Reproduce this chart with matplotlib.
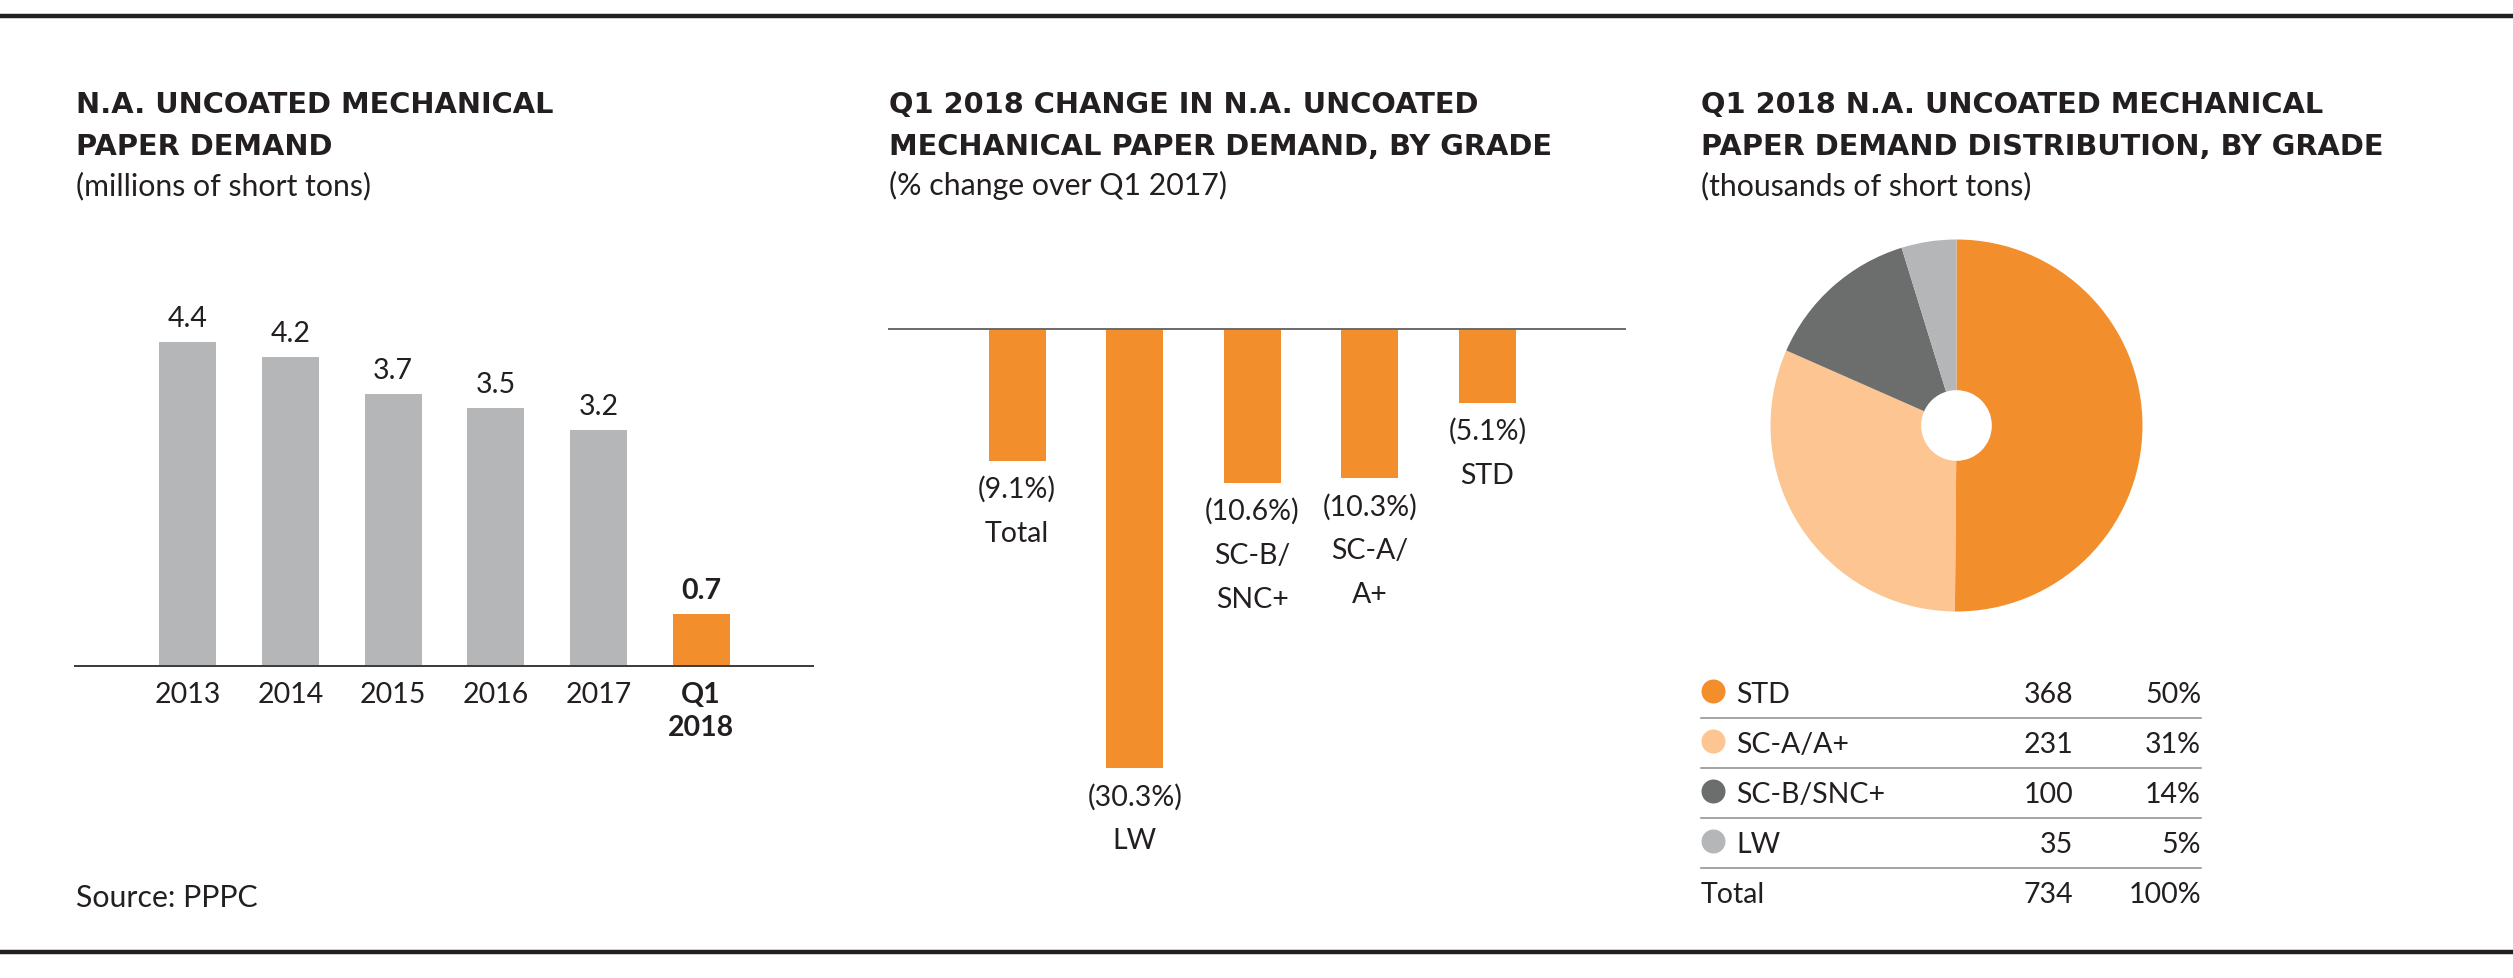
import matplotlib
matplotlib.use("Agg")
import matplotlib.pyplot as plt
from matplotlib.transforms import offset_copy

# ---------------- data ----------------
years = ["2013", "2014", "2015", "2016", "2017", "Q1\n2018"]
demand = [4.4, 4.2, 3.7, 3.5, 3.2, 0.7]

grades_change = ["Total", "LW", "SC-B/\nSNC+", "SC-A/\nA+", "STD"]
pct_change = [-9.1, -30.3, -10.6, -10.3, -5.1]

dist_grades = ["STD", "SC-A/A+", "SC-B/SNC+", "LW"]
dist_values = [368, 231, 100, 35]
dist_pct = ["50%", "31%", "14%", "5%"]
dist_total_label = "Total"
dist_total = "734"
dist_total_pct = "100%"

titles = [
    ["N.A. UNCOATED MECHANICAL", "PAPER DEMAND", "(millions of short tons)"],
    ["Q1 2018 CHANGE IN N.A. UNCOATED", "MECHANICAL PAPER DEMAND, BY GRADE", "(% change over Q1 2017)"],
    ["Q1 2018 N.A. UNCOATED MECHANICAL", "PAPER DEMAND DISTRIBUTION, BY GRADE", "(thousands of short tons)"],
]
source = "Source: PPPC"

# ---------------- style ----------------
ORANGE = "#F38E2C"
LIGHT_ORANGE = "#FCC592"
DARK_GRAY = "#6C6D6D"
LIGHT_GRAY = "#B5B6B8"
TEXT = "#231F20"
FAM = ["Lato", "DejaVu Sans"]
TITLE_FAM = ["DejaVu Sans"]
plt.rcParams["font.family"] = FAM
BODY = 20.5
SUB = 21.8
TITLE = 20.8

W, H = 2513, 979
DPI = 100
fig = plt.figure(figsize=(W / DPI, H / DPI), dpi=DPI)


def px_axes(left, top, right, bottom, **kw):
    return fig.add_axes([left / W, 1 - bottom / H, (right - left) / W, (bottom - top) / H], **kw)


# overlay axes in pixel coordinates for titles / table / rules
ov = px_axes(0, 0, W, H, zorder=5)
ov.set_xlim(0, W)
ov.set_ylim(H, 0)
ov.axis("off")
ov.patch.set_alpha(0)

# rules
ov.plot([0, W], [17, 17], color=TEXT, lw=3.2, solid_capstyle="butt")
ov.plot([0, W], [953, 953], color=TEXT, lw=3.2, solid_capstyle="butt")

# titles
for x0, (l1, l2, sub) in zip([76, 889, 1701], titles):
    ov.text(x0, 113, l1, fontsize=TITLE, fontweight="bold", family=TITLE_FAM, color=TEXT,
            va="baseline", ha="left")
    ov.text(x0, 155, l2, fontsize=TITLE, fontweight="bold", family=TITLE_FAM, color=TEXT,
            va="baseline", ha="left")
    ov.text(x0, 195, sub, fontsize=SUB, color=TEXT, va="baseline", ha="left")

ov.text(76, 907, source, fontsize=SUB, color=TEXT, va="baseline", ha="left")

# ---------------- panel 1: bars ----------------
ax1 = px_axes(75, 299, 813, 667)
xs = list(range(len(years)))
colors1 = [LIGHT_GRAY] * (len(years) - 1) + [ORANGE]
ax1.bar(xs, demand, width=0.556, color=colors1, linewidth=0)
ax1.set_xlim(-1.10, 6.09)
ax1.set_ylim(0, 5)
for s in ["top", "left", "right"]:
    ax1.spines[s].set_visible(False)
ax1.spines["bottom"].set_color("#3a3a3a")
ax1.spines["bottom"].set_linewidth(1.4)
ax1.set_yticks([])
ax1.set_xticks(xs, years)
ax1.tick_params(axis="x", length=0, pad=11, labelsize=BODY, labelcolor=TEXT)
for t in ax1.get_xticklabels():
    t.set_linespacing(1.3)
ax1.get_xticklabels()[-1].set_fontweight("bold")
ax1.patch.set_alpha(0)
up = offset_copy(ax1.transData, fig=fig, x=0, y=16, units="dots")
for i, v in enumerate(demand):
    ax1.text(i, v, f"{v:.1f}", transform=up, ha="center", va="baseline", fontsize=BODY,
             color=TEXT, fontweight="bold" if i == len(demand) - 1 else "normal")

# ---------------- panel 2: change bars ----------------
ax2 = px_axes(889, 330, 1625, 837.5)
xs2 = list(range(len(grades_change)))
ax2.bar(xs2, pct_change, width=0.485, color=ORANGE, linewidth=0)
ax2.set_xlim(-1.09, 5.17)
ax2.set_ylim(-35, 0)
ax2.axis("off")
ax2.axhline(0, color="#6A6A6A", lw=1.4, clip_on=False)
for i, (name, v) in enumerate(zip(grades_change, pct_change)):
    lines = [f"({abs(v):.1f}%)"] + name.split("\n")
    for k, line in enumerate(lines):
        tr = offset_copy(ax2.transData, fig=fig, x=0, y=-(36 + 44 * k), units="dots")
        ax2.text(i, v, line, transform=tr, ha="center", va="baseline", fontsize=BODY, color=TEXT)

# ---------------- panel 3: donut ----------------
cx, cy, r = 1956.5, 426.5, 186
ax3 = px_axes(cx - r, cy - r, cx + r, cy + r)
pie_colors = [ORANGE, LIGHT_ORANGE, DARK_GRAY, LIGHT_GRAY]
ax3.pie(dist_values, colors=pie_colors, startangle=90, counterclock=False,
        wedgeprops=dict(width=0.81, linewidth=0))
ax3.set_xlim(-1, 1)
ax3.set_ylim(-1, 1)
ax3.set_aspect("equal")

# table
row0 = 703
pitch = 50
for k, (g, v, p, c) in enumerate(zip(dist_grades, dist_values, dist_pct, pie_colors)):
    yb = row0 + pitch * k
    ov.scatter([1713], [yb - 11], s=(24 * 72 / DPI) ** 2, color=c, linewidths=0)
    ov.text(1736, yb, g, fontsize=BODY, color=TEXT, va="baseline", ha="left")
    ov.text(2073, yb, str(v), fontsize=BODY, color=TEXT, va="baseline", ha="right")
    ov.text(2201, yb, p, fontsize=BODY, color=TEXT, va="baseline", ha="right")
    ov.plot([1701, 2201], [yb + 16, yb + 16], color="#8A8A8A", lw=1.1)
yb = row0 + pitch * len(dist_grades)
ov.text(1701, yb, dist_total_label, fontsize=BODY, color=TEXT, va="baseline", ha="left")
ov.text(2073, yb, dist_total, fontsize=BODY, color=TEXT, va="baseline", ha="right")
ov.text(2201, yb, dist_total_pct, fontsize=BODY, color=TEXT, va="baseline", ha="right")

fig.savefig("out.png", dpi=DPI, facecolor="white")
